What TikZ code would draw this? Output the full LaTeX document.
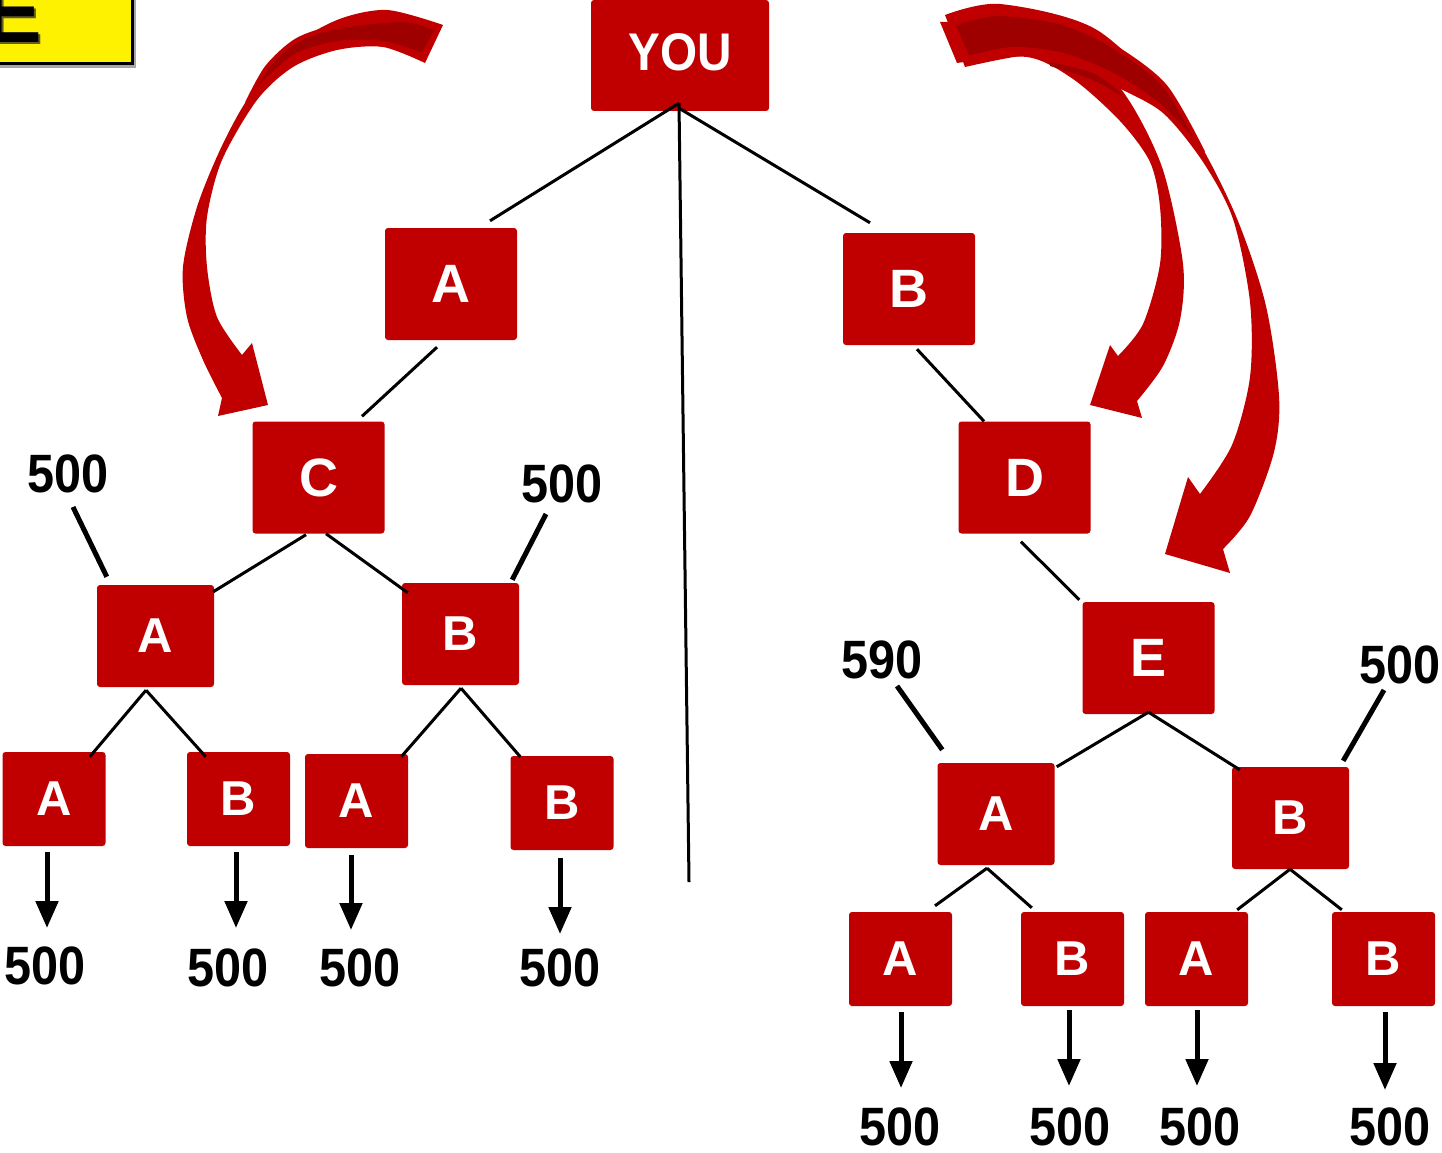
\documentclass[tikz,border=0pt]{standalone}
\usepackage{fontspec}
\setmainfont{Liberation Sans}
\newfontfamily\narrowfont[FakeStretch=0.9]{Liberation Sans}
\newfontfamily\youfont[FakeStretch=0.9]{Liberation Sans}
\usetikzlibrary{arrows.meta}
\definecolor{myred}{HTML}{C00000}
\definecolor{darkred}{HTML}{9E0000}
\tikzset{
  box/.style={fill=myred, rounded corners=3pt, text=white, inner sep=0pt,
    font=\bfseries\fontsize{54}{54}\selectfont},
  bigbox/.style={box, minimum width=132pt, minimum height=112pt},
  midbox/.style={box, minimum width=117pt, minimum height=102pt,
    font=\bfseries\fontsize{49}{49}\selectfont},
  leafbox/.style={box, minimum width=103pt, minimum height=94pt,
    font=\bfseries\fontsize{49}{49}\selectfont},
  tree/.style={line width=3pt, black},
  annot/.style={line width=5pt, black},
  downarrow/.style={line width=5pt, black, -{Triangle[width=22pt,length=27pt]}},
  value/.style={inner sep=0pt, font=\narrowfont\bfseries\fontsize{54}{54}\selectfont},
  bigarrow/.style={fill=myred},
  darkface/.style={fill=darkred, draw=myred, line width=4pt, line join=round},
}
\begin{document}
\begin{tikzpicture}[x=1pt,y=-1pt]
\useasboundingbox (0,0) rectangle (1442,1153);

% yellow title box (cut off)
\fill[gray!70] (-10,-10) rectangle (136,68);
\filldraw[fill=yellow, draw=black, line width=3pt] (-10,-10) rectangle (132,64);
\node[anchor=base east, inner sep=0pt, text=olive!60!black, font=\bfseries\fontsize{88}{88}\selectfont] (eshadow) at (44,45) {E};
\node[anchor=base east, inner sep=0pt, text=black, font=\bfseries\fontsize{88}{88}\selectfont] (etitle) at (42,43) {E};

% curved block arrows
% left
\fill[bigarrow] plot[smooth] coordinates {(443,25) (387,10) (337,20) (287,50) (247,100) (220,150) (197,207) (183,267) (187,317) (203,360) (222,398)}
  -- (218,416) -- (268,405) -- (252,343) --
  plot[smooth] coordinates {(242,355) (217,317) (207,267) (207,217) (222,160) (257,100) (293,67) (337,50) (383,47) (425,63)} -- cycle;
\path[darkface] plot[smooth] coordinates {(437,29) (403,20) (337,27) (297,40) (267,67) (247,103)}
  -- plot[smooth] coordinates {(247,103) (270,77) (297,55) (337,43) (383,43) (423,55)} -- cycle;

% right, to E
\fill[bigarrow] plot[smooth] coordinates {(945,15) (1000,4) (1097,30) (1180,113) (1232,207) (1265,302) (1279,396) (1274,452) (1250,516) (1223,549)}
  -- (1230,573) -- (1165,554) -- (1188,477) --
  plot[smooth] coordinates {(1200,494) (1232,445) (1250,377) (1250,302) (1233,219) (1203,162) (1163,113) (1117,87) (1073,64) (1030,55) (965,67)} -- cycle;
% right, to D
\fill[bigarrow] plot[smooth] coordinates {(940,22) (1030,25) (1090,55) (1130,102) (1163,170) (1183,264) (1180,320) (1163,366) (1137,401)}
  -- (1142,418) -- (1090,405) -- (1110,345) --
  plot[smooth] coordinates {(1118,356) (1143,324) (1160,264) (1160,207) (1150,162) (1120,121) (1073,79) (1027,57) (957,63)} -- cycle;
\path[darkface] plot[smooth] coordinates {(953,24) (997,14) (1063,23) (1113,46) (1165,86) (1203,152)}
  -- plot[smooth] coordinates {(1203,152) (1160,106) (1113,75) (1063,55) (1013,49) (968,58)} -- cycle;
\path[fill=darkred] plot[smooth] coordinates {(1050,62) (1095,74) (1128,100)}
  -- plot[smooth] coordinates {(1128,100) (1093,80) (1050,66)} -- cycle;

% boxes
\node[box, minimum width=178pt, minimum height=111pt, font=\youfont\bfseries\fontsize{53}{53}\selectfont] (you) at (680,55.5) {\raisebox{8pt}{YOU}};
\node[bigbox] (a1) at (451,284) {A};
\node[bigbox] (b1) at (909,289) {B};
\node[bigbox] (c) at (318.5,477.5) {C};
\node[bigbox] (d) at (1024.5,477.5) {D};
\node[bigbox] (e) at (1148.5,658) {E};
\node[midbox] (la) at (155.5,636) {A};
\node[midbox] (lb) at (460.5,634) {B};
\node[leafbox] (l1) at (54,799) {A};
\node[leafbox] (l2) at (238.5,799) {B};
\node[leafbox] (l3) at (356.5,801) {A};
\node[leafbox] (l4) at (562,803) {B};
\node[midbox] (ra) at (996,814) {A};
\node[midbox] (rb) at (1290.5,818) {B};
\node[leafbox] (r1) at (900.5,959) {A};
\node[leafbox] (r2) at (1072.5,959) {B};
\node[leafbox] (r3) at (1196.5,959) {A};
\node[leafbox] (r4) at (1383.5,959) {B};

% tree connectors
\coordinate (vend) at (689,882);
\draw[tree] ([shift={(-1,-8)}]you.south) -- ([shift={(39,-7)}]a1.north);
\draw[tree] ([shift={(-1,-3)}]you.south) -- ([shift={(-39,-10)}]b1.north);
\draw[tree] ([shift={(-1,-8)}]you.south) -- (vend);
\draw[tree] ([shift={(-14,7)}]a1.south) -- ([shift={(43.5,-5)}]c.north);
\draw[tree] ([shift={(8,4)}]b1.south) -- ([shift={(-40.5,0)}]d.north);
\draw[tree] ([shift={(-12.5,1)}]c.south) -- ([shift={(-1,7)}]la.north east);
\draw[tree] ([shift={(7.5,0)}]c.south) -- ([shift={(6,10)}]lb.north west);
\draw[tree] ([shift={(-3.5,8)}]d.south) -- ([shift={(-3,-2)}]e.north west);
\draw[tree] ([shift={(0,-2)}]e.south) -- ([shift={(2,4)}]ra.north east);
\draw[tree] ([shift={(0,-2)}]e.south) -- ([shift={(8,3)}]rb.north west);
\draw[tree] ([shift={(-9.5,3)}]la.south) -- ([shift={(-16,5)}]l1.north east);
\draw[tree] ([shift={(-9.5,3)}]la.south) -- ([shift={(19,5)}]l2.north west);
\draw[tree] ([shift={(0.5,3)}]lb.south) -- ([shift={(-7,3)}]l3.north east);
\draw[tree] ([shift={(0.5,3)}]lb.south) -- ([shift={(10,1)}]l4.north west);
\draw[tree] ([shift={(-9,3)}]ra.south) -- ([shift={(34.5,-6)}]r1.north);
\draw[tree] ([shift={(-9,3)}]ra.south) -- ([shift={(11,-4)}]r2.north west);
\draw[tree] ([shift={(-0.5,0)}]rb.south) -- ([shift={(-11,-2)}]r3.north east);
\draw[tree] ([shift={(-0.5,0)}]rb.south) -- ([shift={(10,-2)}]r4.north west);

% annotation values
\node[value] (n1) at (68,474) {500};
\node[value] (n2) at (562,484) {500};
\node[value] (n3) at (882,660) {590};
\node[value] (n4) at (1400,665) {500};
\draw[annot] ([shift={(5,33)}]n1.center) -- ([shift={(10,-8)}]la.north west);
\draw[annot] ([shift={(-16,30)}]n2.center) -- ([shift={(-7,-3)}]lb.north east);
\draw[annot] ([shift={(15,26)}]n3.center) -- ([shift={(5,-13)}]ra.north west);
\draw[annot] ([shift={(-16,25)}]n4.center) -- ([shift={(-6,-6)}]rb.north east);

% leaf values
\node[value] (v1) at (45,966) {500};
\node[value] (v2) at (228,968) {500};
\node[value] (v3) at (360,968) {500};
\node[value] (v4) at (560,968) {500};
\node[value] (v5) at (900,1127) {500};
\node[value] (v6) at (1070,1127) {500};
\node[value] (v7) at (1200,1127) {500};
\node[value] (v8) at (1390,1127) {500};
\draw[downarrow] ([shift={(-7,6)}]l1.south) -- ([shift={(2,-38)}]v1.center);
\draw[downarrow] ([shift={(-2.5,6)}]l2.south) -- ([shift={(8,-40)}]v2.center);
\draw[downarrow] ([shift={(-5.5,7)}]l3.south) -- ([shift={(-9,-38)}]v3.center);
\draw[downarrow] ([shift={(-2,8)}]l4.south) -- ([shift={(0,-34)}]v4.center);
\draw[downarrow] ([shift={(0.5,6)}]r1.south) -- ([shift={(1,-39)}]v5.center);
\draw[downarrow] ([shift={(-3.5,4)}]r2.south) -- ([shift={(-1,-41)}]v6.center);
\draw[downarrow] ([shift={(0.5,4)}]r3.south) -- ([shift={(-3,-41)}]v7.center);
\draw[downarrow] ([shift={(1.5,6)}]r4.south) -- ([shift={(-5,-37)}]v8.center);
\end{tikzpicture}
\end{document}
